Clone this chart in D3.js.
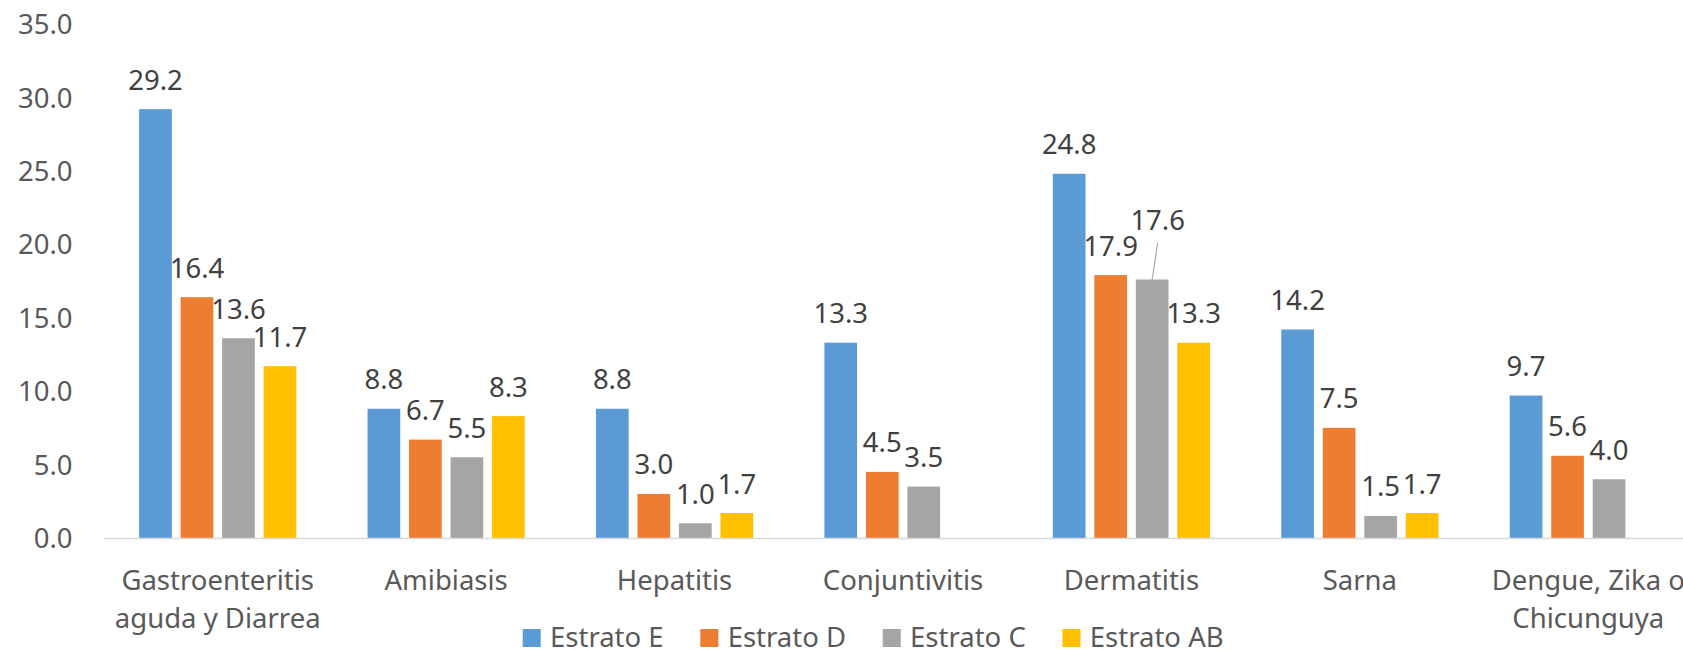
<!DOCTYPE html>
<html>
<head>
<meta charset="utf-8">
<script src="https://cdn.jsdelivr.net/npm/d3@7"></script>
<style>
  html, body { margin: 0; padding: 0; background: #ffffff; overflow: hidden; }
  svg { display: block; font-family: "Noto Sans", "Open Sans", sans-serif; }
</style>
</head>
<body>
<svg id="chart" width="1683" height="650"></svg>
<script>
// ---- data ----
const categories = [
  "Gastroenteritis aguda y Diarrea",
  "Amibiasis",
  "Hepatitis",
  "Conjuntivitis",
  "Dermatitis",
  "Sarna",
  "Dengue, Zika o Chicunguya"
];
const seriesNames = ["Estrato E", "Estrato D", "Estrato C", "Estrato AB"];
const estratoE  = [29.2, 8.8, 8.8, 13.3, 24.8, 14.2, 9.7];
const estratoD  = [16.4, 6.7, 3.0, 4.5, 17.9, 7.5, 5.6];
const estratoC  = [13.6, 5.5, 1.0, 3.5, 17.6, 1.5, 4.0];
const estratoAB = [11.7, 8.3, 1.7, null, 13.3, 1.7, null];
const yTicks = [0, 5, 10, 15, 20, 25, 30, 35];

// ---- styles ----
const colors = ["#5B9BD5", "#ED7D31", "#A5A5A5", "#FFC000"];
const fontSize = 27.5;
const axisTextColor = "#595959";
const labelTextColor = "#404040";

const seriesValues = [estratoE, estratoD, estratoC, estratoAB];
const rows = [];
seriesValues.forEach((vals, si) => {
  vals.forEach((v, ci) => {
    if (v !== null) rows.push({ series: seriesNames[si], si, category: categories[ci], value: v });
  });
});

const svg = d3.select("#chart");

const x0 = d3.scaleBand().domain(categories).range([103.5, 1702.5]).padding(0);
const x1 = d3.scaleBand().domain(seriesNames).range([0, x0.bandwidth()])
  .paddingInner(0.212).paddingOuter(0.858);
const y = d3.scaleLinear().domain([0, 35]).range([538, 24]);

// y axis
const yAxis = svg.append("g")
  .attr("transform", "translate(103.5,0)")
  .call(d3.axisLeft(y).tickValues(yTicks).tickFormat(d3.format(".1f")).tickSize(0).tickPadding(31));
yAxis.select(".domain").remove();
yAxis.selectAll("text")
  .attr("fill", axisTextColor)
  .style("font-size", fontSize + "px")
  .style("font-family", '"Noto Sans", sans-serif')
  .attr("dy", "0.35em");

// bars
svg.append("g").selectAll("rect")
  .data(rows)
  .join("rect")
  .attr("x", d => x0(d.category) + x1(d.series))
  .attr("y", d => y(d.value))
  .attr("width", x1.bandwidth())
  .attr("height", d => y(0) - y(d.value))
  .attr("fill", d => colors[d.si]);

// x axis
const xAxis = svg.append("g")
  .attr("transform", "translate(0,538)")
  .call(d3.axisBottom(x0).tickSize(0));
xAxis.select(".domain")
  .attr("stroke", "#D9D9D9")
  .attr("stroke-width", 1.6);
xAxis.selectAll(".tick text").each(function(d) {
  const t = d3.select(this);
  t.text(null)
    .attr("y", 0).attr("dy", null)
    .attr("fill", axisTextColor)
    .style("font-size", fontSize + "px")
    .style("font-family", '"Noto Sans", sans-serif');
  const words = d.split(" ");
  const maxW = 218;
  let lines = [];
  let cur = [];
  let probe = t.append("tspan");
  words.forEach(w => {
    const test = cur.concat([w]).join(" ");
    probe.text(test);
    if (probe.node().getComputedTextLength() > maxW && cur.length) {
      lines.push(cur.join(" "));
      cur = [w];
    } else {
      cur.push(w);
    }
  });
  if (cur.length) lines.push(cur.join(" "));
  probe.remove();
  lines.forEach((ln, i) => {
    t.append("tspan").attr("x", 0).attr("y", 52 + i * 37.5).text(ln);
  });
});

// data labels
const nudge = { category: "Dermatitis", series: "Estrato C", dx: 5.5, dy: -30 };
const labels = svg.append("g");
rows.forEach(d => {
  const cx = x0(d.category) + x1(d.series) + x1.bandwidth() / 2;
  const top = y(d.value);
  let lx = cx, ly = top - 19.5;
  const isNudged = d.category === nudge.category && d.series === nudge.series;
  if (isNudged) {
    lx += nudge.dx; ly += nudge.dy;
    labels.append("line")
      .attr("x1", lx).attr("y1", ly + 12.7)
      .attr("x2", cx).attr("y2", top)
      .attr("stroke", "#A6A6A6").attr("stroke-width", 1.2);
  }
  labels.append("text")
    .attr("x", lx).attr("y", ly)
    .attr("text-anchor", "middle")
    .attr("fill", labelTextColor)
    .style("font-size", fontSize + "px")
    .text(d3.format(".1f")(d.value));
});

// legend
const legend = svg.append("g");
let lxPos = 522.7;
seriesNames.forEach((name, i) => {
  legend.append("rect")
    .attr("x", lxPos).attr("y", 629)
    .attr("width", 18).attr("height", 18)
    .attr("fill", colors[i]);
  const txt = legend.append("text")
    .attr("x", lxPos + 27.3).attr("y", 646.5)
    .attr("fill", axisTextColor)
    .style("font-size", fontSize + "px")
    .text(name);
  const w = txt.node().getComputedTextLength();
  lxPos = lxPos + 27.3 + w + 36.7;
});
</script>
</body>
</html>
